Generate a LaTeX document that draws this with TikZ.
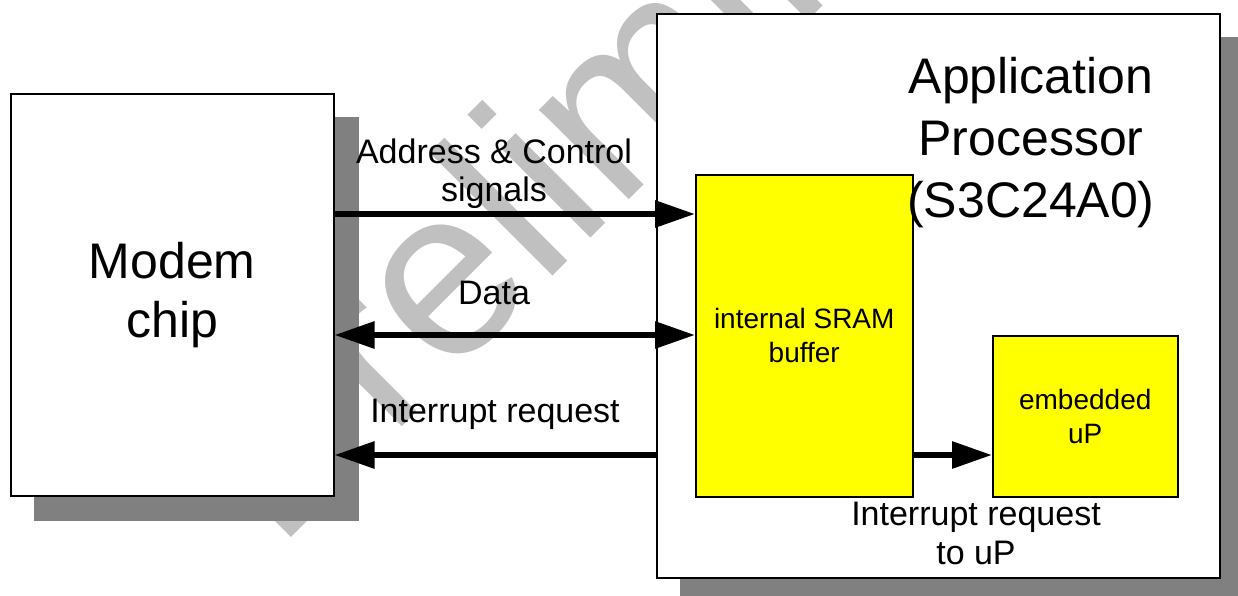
\documentclass[tikz,border=0pt]{standalone}
\usepackage{fontspec}
\setmainfont{Liberation Sans}
\usetikzlibrary{arrows.meta,backgrounds}
\definecolor{shadowgray}{HTML}{808080}
\definecolor{wmgray}{HTML}{C0C0C0}
\definecolor{chipyellow}{HTML}{FFFF00}
\tikzset{
  outerbox/.style={draw=black, line width=1.5pt, fill=white, inner sep=0pt, anchor=north west},
  yellowbox/.style={draw=black, line width=1.5pt, fill=chipyellow, inner sep=0pt, anchor=north west, align=center, font=\fontsize{28}{34}\selectfont},
  bigtext/.style={font=\fontsize{50}{59}\selectfont, align=center},
  sigtext/.style={font=\fontsize{34}{38}\selectfont, align=center, inner sep=0pt},
  sig/.style={line width=6pt, -{Triangle[length=40pt,width=26pt]}},
  bisig/.style={line width=6pt, {Triangle[length=40pt,width=26pt]}-{Triangle[length=40pt,width=26pt]}},
  shadowfill/.style={fill=shadowgray},
  watermark/.style={text=wmgray, rotate=45, anchor=base, inner sep=0pt, font=\fontsize{240}{240}\selectfont},
}
\begin{document}
\begin{tikzpicture}[x=1pt,y=-1pt]
\useasboundingbox (0,0) rectangle (1238,595);
% boxes
\node[outerbox, bigtext, minimum width=323pt, minimum height=402pt] (modem) at (10,93) {Modem\\chip};
\node[outerbox, minimum width=563pt, minimum height=564pt] (ap) at (656,13) {};
\node[yellowbox, minimum width=217pt, minimum height=322pt] (sram) at (695,174) {internal SRAM\\buffer};
\node[yellowbox, minimum width=185pt, minimum height=161pt] (up) at (992,335) {embedded\\uP};
\node[bigtext, font=\fontsize{50}{62}\selectfont, inner sep=0pt] (aptitle) at (1031,143) {Application\\Processor\\(S3C24A0)};
% labels
\node[sigtext] (addrlbl) at (494,173.4) {Address \& Control\\signals};
\node[sigtext, anchor=base] (datalbl) at (494,304) {Data};
\node[sigtext, anchor=base] (irqlbl) at (495,422) {Interrupt request};
\node[sigtext, font=\fontsize{34}{39}\selectfont] (irquplbl) at (976,533.4) {Interrupt request\\to uP};
% connectors
\coordinate (yaddr) at (0,214);
\coordinate (ydata) at (0,335);
\coordinate (yirq) at (0,455);
\draw[sig] (modem.east |- yaddr) -- (sram.west |- yaddr);
\draw[bisig] (modem.east |- ydata) -- (sram.west |- ydata);
\draw[sig] (ap.west |- yirq) -- (modem.east |- yirq);
\draw[sig] (sram.east |- yirq) -- (up.west |- yirq);
% background: watermark and shadows
\begin{pgfonlayer}{background}
\node[watermark] (wm) at (702,127) {Preliminary};
\fill[shadowfill] ([shift={(24,24)}]modem.north west) rectangle ([shift={(24,24)}]modem.south east);
\fill[shadowfill] ([shift={(24,24)}]ap.north west) rectangle ([shift={(24,24)}]ap.south east);
\end{pgfonlayer}
\end{tikzpicture}
\end{document}
